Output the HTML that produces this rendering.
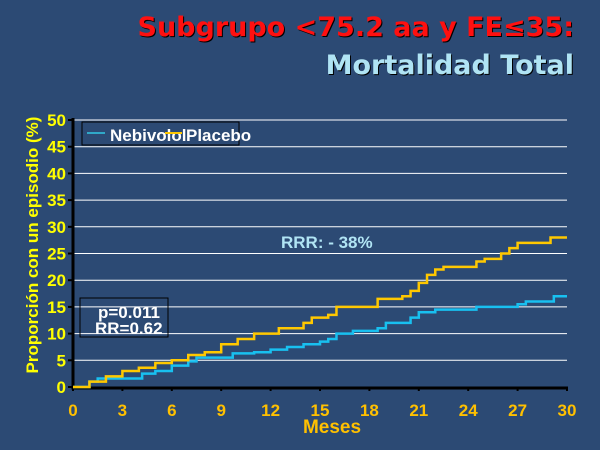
<!DOCTYPE html>
<html><head><meta charset="utf-8"><style>
body{margin:0;width:600px;height:450px;background:#2c4a74;overflow:hidden;font-family:"Liberation Sans",sans-serif}
.t{position:absolute;right:26px;font-weight:bold;font-size:27px;text-shadow:1px 1px 0 #000;font-family:"DejaVu Sans","Liberation Sans",sans-serif}
</style></head><body>
<div class="t" style="top:12px;color:#ff1010">Subgrupo &lt;75.2 aa y FE≤35:</div>
<div class="t" style="top:50px;color:#b0e4f4">Mortalidad Total</div>
<svg id="c" width="600" height="450" style="position:absolute;left:0;top:0"></svg>
<script>
const xTicks=[0,3,6,9,12,15,18,21,24,27,30];
const yTicks=[0,5,10,15,20,25,30,35,40,45,50];
const placeboX=[0,1,2,3,4,5,6,7,8,9,10,11,12,12.5,13.5,14,14.5,15.5,16,18,18.5,20,20.5,21,21.5,22,22.5,24,24.5,25,26,26.5,27,28.5,29,30];
const placeboY=[0,1,2,3,3.6,4.5,5,6,6.5,8,9,10,10,11,11,12,13,13.5,15,15,16.5,17,18,19.5,21,22,22.5,22.5,23.5,24,25,26,27,27,28,28];
const nebX=[0,1,1.5,4,4.2,5,6,7,7.5,9.5,9.7,11,12,13,14,15,15.5,16,17,18.5,19,20,20.5,21,22,24.5,27,27.5,29,29.2,30];
const nebY=[0,1,1.6,1.6,2.5,3,4,4.8,5.5,5.5,6.3,6.5,7,7.5,8,8.5,9,10,10.5,11,12,12,13,14,14.5,15,15.5,16,16,17,17];
const X=v=>73+v*(567-73)/30, Y=v=>387-v*(387-120)/50;
const s=document.getElementById('c'),NS='http://www.w3.org/2000/svg';
function el(t,a,txt){const e=document.createElementNS(NS,t);for(const k in a)e.setAttribute(k,a[k]);if(txt!==undefined)e.textContent=txt;s.appendChild(e);return e;}
yTicks.forEach(v=>{if(v>0){const g=el('line',{x1:73,x2:567,y1:Y(v),y2:Y(v),stroke:'#fff','stroke-width':1});

}
const tk=el('line',{x1:68,x2:73,y1:Y(v),y2:Y(v),stroke:'#000','stroke-width':2});


const l=el('text',{x:66,y:Y(v)+6,'text-anchor':'end',fill:'#ffff00','font-size':17,'font-weight':'bold'},v);

});
xTicks.forEach(v=>{const tk=el('line',{x1:X(v),x2:X(v),y1:387,y2:391,stroke:'#000','stroke-width':2});


const l=el('text',{x:X(v),y:416,'text-anchor':'middle',fill:'#ffc000','font-size':17,'font-weight':'bold'},v);

});
const ax=el('path',{d:'M73,118V388H568',stroke:'#000','stroke-width':3,fill:'none'});


function step(xs,ys,c,n){let d='M'+X(xs[0])+','+Y(ys[0]);for(let i=1;i<xs.length;i++){d+='H'+X(xs[i])+'V'+Y(ys[i]);}
const p=el('path',{d:d,stroke:c,'stroke-width':2.5,fill:'none'});

}
step(nebX,nebY,'#18c0f0','nebivolol-line');
step(placeboX,placeboY,'#ffc800','placebo-line');
const lb=el('rect',{x:82,y:122,width:157,height:23,fill:'#2c4a74',stroke:'#000','stroke-width':1});


el('line',{x1:87,x2:105,y1:133,y2:133,stroke:'#30a8c8','stroke-width':2});
const l1=el('text',{x:110,y:141,fill:'#fff','font-size':17,'font-weight':'bold'},'Nebivolol');


el('line',{x1:165,x2:182,y1:133,y2:133,stroke:'#ffc800','stroke-width':2});
const l2=el('text',{x:186,y:141,fill:'#fff','font-size':17,'font-weight':'bold'},'Placebo');


const sb=el('rect',{x:80,y:298,width:88,height:39,fill:'none',stroke:'#000','stroke-width':1});


el('text',{x:98,y:318,fill:'#fff','font-size':17,'font-weight':'bold'},'p=0.011');
el('text',{x:95,y:334,fill:'#fff','font-size':17,'font-weight':'bold'},'RR=0.62');
const r=el('text',{x:281,y:248,fill:'#b0e4f4','font-size':17,'font-weight':'bold'},'RRR: - 38%');


const xt=el('text',{x:332,y:433,'text-anchor':'middle',fill:'#ffc000','font-size':19,'font-weight':'bold'},'Meses');


const yt=el('text',{x:0,y:0,transform:'translate(38,245) rotate(-90)','text-anchor':'middle',fill:'#ffff00','font-size':17,'font-weight':'bold'},'Proporción con un episodio (%)');


</script>
</body></html>
